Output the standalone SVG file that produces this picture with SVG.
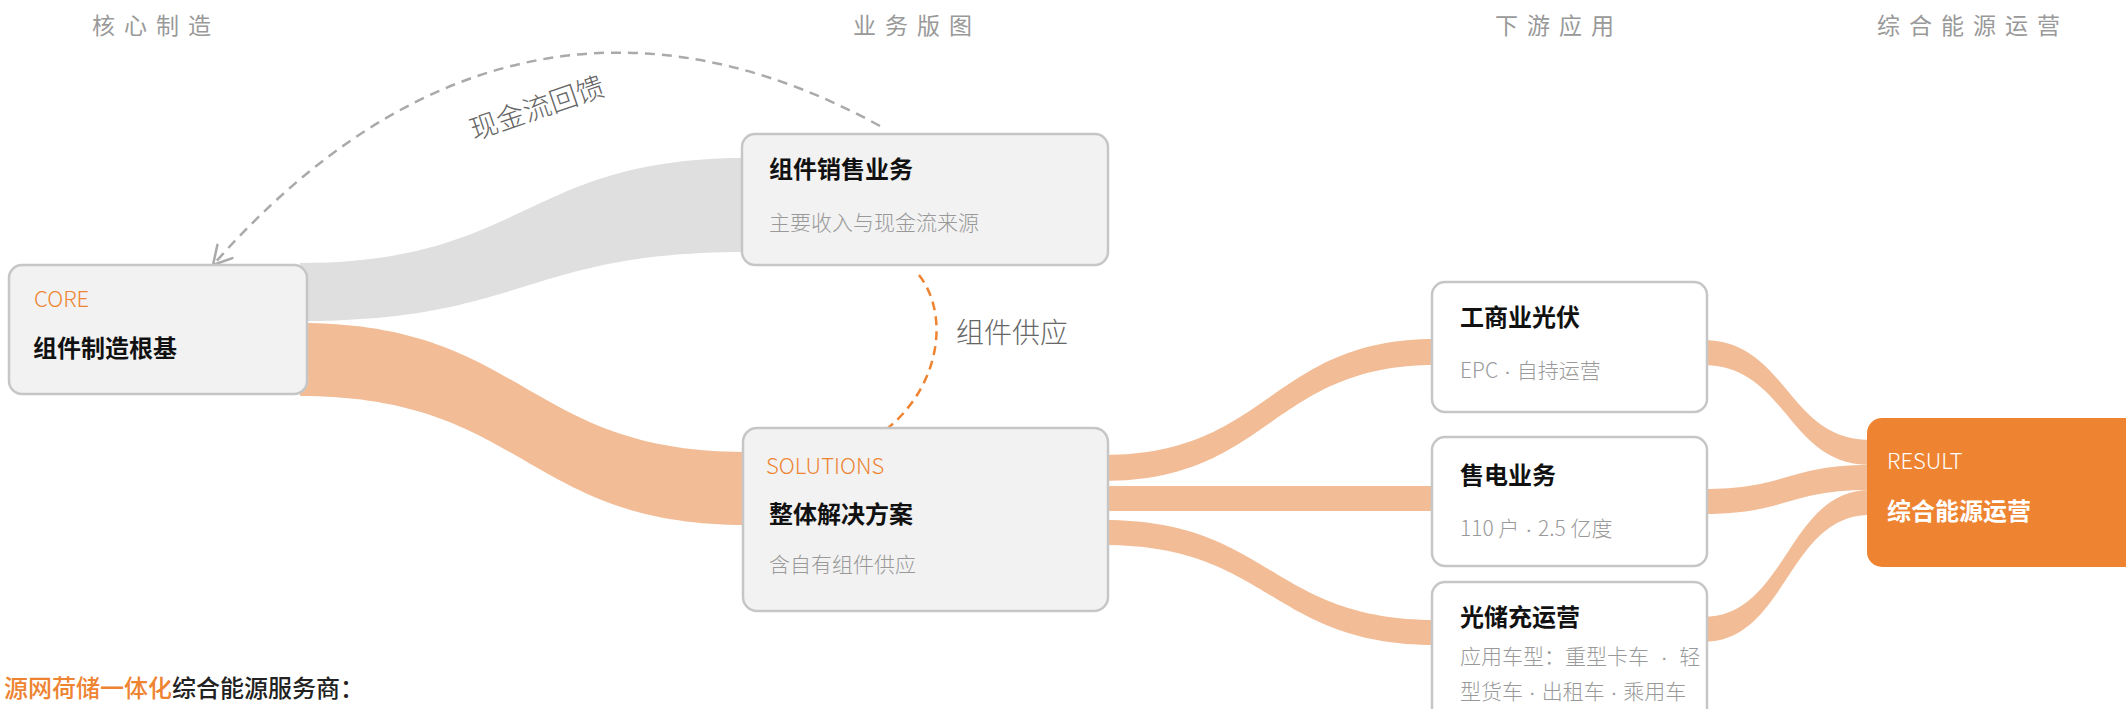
<svg xmlns="http://www.w3.org/2000/svg" width="2126" height="709" viewBox="0 0 2126 709">
<defs>
<style>
text{font-family:"Noto Sans CJK SC","Noto Sans",sans-serif;}
.hdr{font-size:23px;fill:#999;font-weight:400;letter-spacing:9px;}
.box{fill:#f2f2f2;stroke:#c6c6c6;stroke-width:2.5;}
.wbox{fill:#ffffff;stroke:#c6c6c6;stroke-width:2.5;}
.tag{font-size:22px;fill:#ee8432;font-weight:300;}
.title{font-size:24px;fill:#111;font-weight:700;}
.sub{font-size:21px;fill:#999;font-weight:300;}
.dot{font-family:"Liberation Sans",sans-serif;}
.band{fill:#f2bd96;}
.gband{fill:#dfdfdf;}
.lbl{font-size:28px;fill:#666;font-weight:300;}
</style>
<marker id="arrow" viewBox="-21 -12 23 24" refX="0" refY="0" markerWidth="23" markerHeight="24" markerUnits="userSpaceOnUse" orient="auto">
<path d="M-18,-10 L0,0 L-18,10" fill="none" stroke="#aaaaaa" stroke-width="2.5" stroke-linecap="round" stroke-linejoin="round"/>
</marker>
</defs>
<g id="headers">
<text class="hdr" x="92" y="34">核心制造</text>
<text class="hdr" x="853" y="34">业务版图</text>
<text class="hdr" x="1495" y="34">下游应用</text>
<text class="hdr" x="1877" y="34">综合能源运营</text>
</g>
<g id="connectors">
<path class="gband" d="M300,263 C525,263 525,158 746,158 L746,252 C525,252 525,321 300,321 Z"/>
<path class="band" d="M300,323 C525,323 525,452 746,452 L746,525 C525,525 525,396 300,396 Z"/>
<path class="band" d="M1104,455 C1270,455 1270,339 1436,339 L1436,365 C1270,365 1270,481 1104,481 Z"/>
<rect class="band" x="1104" y="486" width="332" height="25"/>
<path class="band" d="M1104,520 C1270,520 1270,620 1436,620 L1436,645 C1270,645 1270,545 1104,545 Z"/>
<path class="band" d="M1703,340 C1787,340 1787,440 1870,440 L1870,465 C1787,465 1787,365 1703,365 Z"/>
<path class="band" d="M1703,489 C1787,489 1787,465 1870,465 L1870,490 C1787,490 1787,514 1703,514 Z"/>
<path class="band" d="M1703,617 C1787,617 1787,490 1870,490 L1870,515 C1787,515 1787,642 1703,642 Z"/>
<path d="M880,126 C650,0 420,30 213,265" fill="none" stroke="#aaaaaa" stroke-width="2.5" stroke-dasharray="10 7" marker-end="url(#arrow)"/>
<text class="lbl" transform="translate(537,108) rotate(-19)" x="0" y="10" text-anchor="middle">现金流回馈</text>
<path d="M919,275 C950,315 940,385 888,428" fill="none" stroke="#ee8432" stroke-width="2.5" stroke-dasharray="9 6"/>
<text class="lbl" x="956" y="343">组件供应</text>
</g>
<g id="node-core">
<rect class="box" x="9" y="265" width="298" height="129" rx="13"/>
<text class="tag" x="34" y="307">CORE</text>
<text class="title" x="33" y="357">组件制造根基</text>
</g>
<g id="node-sales">
<rect class="box" x="742" y="134" width="366" height="131" rx="13"/>
<text class="title" x="769" y="178">组件销售业务</text>
<text class="sub" x="769" y="230">主要收入与现金流来源</text>
</g>
<g id="node-solutions">
<rect class="box" x="743" y="428" width="365" height="183" rx="14"/>
<text class="tag" x="766" y="474">SOLUTIONS</text>
<text class="title" x="769" y="523">整体解决方案</text>
<text class="sub" x="769" y="572">含自有组件供应</text>
</g>
<g id="node-ci-pv">
<rect class="wbox" x="1432" y="282" width="275" height="130" rx="13"/>
<text class="title" x="1460" y="326">工商业光伏</text>
<text class="sub" x="1460" y="378">EPC<tspan class="dot"> · </tspan>自持运营</text>
</g>
<g id="node-power-sales">
<rect class="wbox" x="1432" y="437" width="275" height="129" rx="13"/>
<text class="title" x="1460" y="484">售电业务</text>
<text class="sub" x="1460" y="536">110 户<tspan class="dot"> · </tspan>2.5 亿度</text>
</g>
<g id="node-pv-storage">
<rect class="wbox" x="1432" y="582" width="275" height="150" rx="13"/>
<text class="title" x="1460" y="626">光储充运营</text>
<text class="sub" x="1460" y="664" xml:space="preserve">应用车型：重型卡车<tspan class="dot">  ·  </tspan>轻</text>
<text class="sub" x="1460" y="699">型货车<tspan class="dot"> · </tspan>出租车<tspan class="dot"> · </tspan>乘用车</text>
</g>
<g id="node-result">
<rect x="1867" y="418" width="290" height="149" rx="15" fill="#ee8432"/>
<text class="tag" x="1887" y="469" style="fill:#fff">RESULT</text>
<text class="title" x="1887" y="520" style="fill:#fff">综合能源运营</text>
</g>
<g id="footer">
<text x="4" y="697" style="font-size:24px;font-weight:500"><tspan fill="#ee8432">源网荷储一体化</tspan><tspan fill="#222">综合能源服务商：</tspan></text>
</g>
</svg>
